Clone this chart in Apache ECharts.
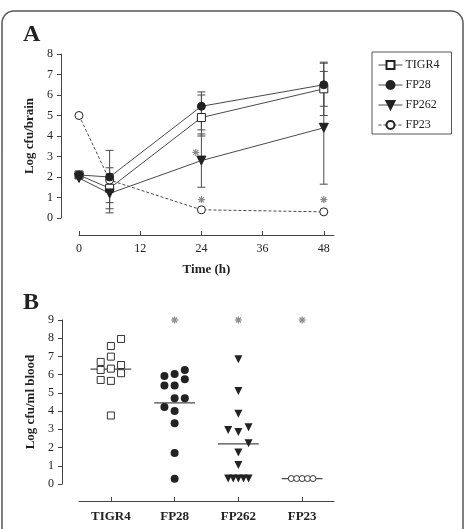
<!DOCTYPE html>
<html>
<head>
<meta charset="utf-8">
<script src="https://cdn.jsdelivr.net/npm/echarts@6/dist/echarts.min.js"></script>
<style>
  html, body { margin: 0; padding: 0; background: #fff; }
  #chart { width: 465px; height: 529px; }
</style>
</head>
<body>
<div id="chart"></div>
<script>
// --- Panel A: brain counts over time ---
const timePoints = [0, 6, 24, 48];
const timeTicks = [0, 12, 24, 36, 48];

const tigr4Brain = [2.1, 1.45, 4.9, 6.3];
const tigr4Low = [2.1, 0.45, 4.0, 5.0];
const tigr4High = [2.1, 2.45, 6.0, 7.6];

const fp28Brain = [2.1, 2.0, 5.45, 6.5];
const fp28Low = [2.1, 0.75, 4.3, 5.45];
const fp28High = [2.1, 3.3, 6.15, 7.55];

const fp262Brain = [1.95, 1.2, 2.8, 4.4];
const fp262Low = [1.95, 0.25, 1.5, 1.65];
const fp262High = [1.95, 2.15, 4.1, 7.15];

const fp23Brain = [5.0, 1.85, 0.4, 0.3];

// asterisks (significance) in panel A: [time, value]
const starsA = [[22.9, 3.2], [24, 0.9], [48, 0.9]];

// --- Panel B: blood counts per strain (x = category index + jitter) ---
const bloodCategories = ['TIGR4', 'FP28', 'FP262', 'FP23'];
const tigr4Blood = [[1.16, 7.96], [1, 7.57], [1, 6.99], [0.84, 6.70], [1.16, 6.53], [1, 6.33],
  [0.84, 6.26], [1.16, 6.08], [0.84, 5.71], [1, 5.66], [1, 3.76]];
const fp28Blood = [[1.84, 5.93], [2, 6.04], [2.16, 6.26], [2.16, 5.75], [1.84, 5.40], [2, 5.40],
  [2, 4.71], [2.16, 4.71], [1.84, 4.22], [2, 4.00], [2, 3.34], [2, 1.70], [2, 0.29]];
const fp262Blood = [[3, 6.84], [3, 5.11], [3, 3.85], [2.84, 2.97], [3.16, 3.12], [3, 2.85],
  [3.16, 2.24], [3, 1.73], [3, 1.04], [2.84, 0.3], [2.92, 0.3], [3, 0.3], [3.08, 0.3], [3.16, 0.3]];
const fp23Blood = [[3.83, 0.3], [3.915, 0.3], [4, 0.3], [4.085, 0.3], [4.17, 0.3]];
const bloodMedians = [6.3, 4.45, 2.2, 0.3];
const starsB = [[2, 9.0], [3, 9.0], [4, 9.0]];

const FONT = 'Liberation Serif';
const AXIS = '#444';
const LINE = '#4a4a4a';
const INK = '#222';
const STAR = '#8a8a8a';

const zip = (xs, ys) => xs.map((x, i) => [x, ys[i]]);
const errData = (low, high) => timePoints.map((t, i) => [t, low[i], high[i]]);

function errorBars(params, api) {
  const x = api.value(0);
  const lo = api.coord([x, api.value(1)]);
  const hi = api.coord([x, api.value(2)]);
  const w = 4;
  const st = { stroke: LINE, lineWidth: 1 };
  return {
    type: 'group',
    children: [
      { type: 'line', shape: { x1: lo[0], y1: lo[1], x2: hi[0], y2: hi[1] }, style: st },
      { type: 'line', shape: { x1: lo[0] - w, y1: lo[1], x2: lo[0] + w, y2: lo[1] }, style: st },
      { type: 'line', shape: { x1: hi[0] - w, y1: hi[1], x2: hi[0] + w, y2: hi[1] }, style: st }
    ]
  };
}

function asterisk(params, api) {
  const p = api.coord([api.value(0), api.value(1)]);
  const r = 3.5;
  const st = { stroke: STAR, lineWidth: 1.2 };
  const kids = [];
  for (let k = 0; k < 4; k++) {
    const a = k * Math.PI / 4;
    const dx = Math.cos(a) * r, dy = Math.sin(a) * r;
    kids.push({ type: 'line', shape: { x1: p[0] - dx, y1: p[1] - dy, x2: p[0] + dx, y2: p[1] + dy }, style: st });
  }
  return { type: 'group', children: kids };
}

function medianLine(params, api) {
  const x = api.value(0), y = api.value(1);
  const a = api.coord([x - 0.32, y]);
  const b = api.coord([x + 0.32, y]);
  return { type: 'line', shape: { x1: a[0], y1: a[1], x2: b[0], y2: b[1] }, style: { stroke: LINE, lineWidth: 1.2 } };
}

const tickLabel = { fontFamily: FONT, fontSize: 12, color: INK };
const axisName = { fontFamily: FONT, fontSize: 13, fontWeight: 'bold', color: INK };

const chart = echarts.init(document.getElementById('chart'), null, { renderer: 'canvas' });

chart.setOption({
  backgroundColor: '#fff',
  animation: false,
  graphic: [
    { type: 'rect', shape: { x: 2, y: 11, width: 461, height: 560, r: 12 },
      style: { fill: 'none', stroke: '#555', lineWidth: 1.5 } },
    { type: 'text', left: 23, top: 23, style: { text: 'A', font: 'bold 24px "Liberation Serif"', fill: INK } },
    { type: 'text', left: 23, top: 291, style: { text: 'B', font: 'bold 24px "Liberation Serif"', fill: INK } }
  ],
  legend: {
    data: ['TIGR4', 'FP28', 'FP262', 'FP23'],
    orient: 'vertical',
    left: 372,
    top: 52,
    padding: [7, 12, 3, 6],
    itemGap: 8,
    itemWidth: 24,
    itemHeight: 10,
    borderColor: '#555',
    borderWidth: 1,
    selectedMode: false,
    lineStyle: { width: 1 },
    textStyle: { fontFamily: FONT, fontSize: 12, color: INK, padding: [0, 0, 0, -2] }
  },
  grid: [
    { left: 79, right: 131, top: 54, bottom: 311 },
    { left: 79, right: 131, top: 320, bottom: 45 }
  ],
  xAxis: [
    {
      gridIndex: 0, type: 'value', min: 0, max: 50, interval: 12, offset: 17,
      splitLine: { show: false },
      axisLine: { onZero: false, lineStyle: { color: AXIS } },
      axisTick: { inside: true, length: 4, customValues: timeTicks, lineStyle: { color: AXIS } },
      axisLabel: Object.assign({ customValues: timeTicks, margin: 8 }, tickLabel),
      name: 'Time (h)', nameLocation: 'middle', nameGap: 28,
      nameTextStyle: axisName
    },
    {
      gridIndex: 1, type: 'value', min: 0.5, max: 4.5, offset: 17,
      splitLine: { show: false },
      axisLine: { onZero: false, lineStyle: { color: AXIS } },
      axisTick: { inside: true, length: 4, customValues: [1, 2, 3, 4], lineStyle: { color: AXIS } },
      axisLabel: { customValues: [1, 2, 3, 4], margin: 9, fontFamily: FONT, fontSize: 13,
        fontWeight: 'bold', color: INK, formatter: v => bloodCategories[Math.round(v) - 1] }
    }
  ],
  yAxis: [
    {
      gridIndex: 0, type: 'value', min: 0, max: 8, interval: 1, offset: 18,
      splitLine: { show: false },
      axisLine: { show: true, onZero: false, lineStyle: { color: AXIS } },
      axisTick: { show: true, length: 4, lineStyle: { color: AXIS } },
      axisLabel: Object.assign({ margin: 8 }, tickLabel),
      name: 'Log cfu/brain', nameLocation: 'middle', nameGap: 25,
      nameTextStyle: axisName
    },
    {
      gridIndex: 1, type: 'value', min: 0, max: 9, interval: 1, offset: 17,
      splitLine: { show: false },
      axisLine: { show: true, onZero: false, lineStyle: { color: AXIS } },
      axisTick: { show: true, length: 4, lineStyle: { color: AXIS } },
      axisLabel: Object.assign({ margin: 8 }, tickLabel),
      name: 'Log cfu/ml blood', nameLocation: 'middle', nameGap: 25,
      nameTextStyle: axisName
    }
  ],
  series: [
    // error bars (behind lines)
    { type: 'custom', xAxisIndex: 0, yAxisIndex: 0, renderItem: errorBars, data: errData(tigr4Low, tigr4High), encode: { x: 0, y: [1, 2] }, z: 1 },
    { type: 'custom', xAxisIndex: 0, yAxisIndex: 0, renderItem: errorBars, data: errData(fp28Low, fp28High), encode: { x: 0, y: [1, 2] }, z: 1 },
    { type: 'custom', xAxisIndex: 0, yAxisIndex: 0, renderItem: errorBars, data: errData(fp262Low, fp262High), encode: { x: 0, y: [1, 2] }, z: 1 },
    {
      name: 'FP23', type: 'line', xAxisIndex: 0, yAxisIndex: 0, data: zip(timePoints, fp23Brain),
      symbol: 'circle', symbolSize: 8,
      lineStyle: { color: LINE, width: 1, type: [3, 2] },
      itemStyle: { color: '#fff', borderColor: INK, borderWidth: 1 }, z: 2
    },
    {
      name: 'TIGR4', type: 'line', xAxisIndex: 0, yAxisIndex: 0, data: zip(timePoints, tigr4Brain),
      symbol: 'rect', symbolSize: 8,
      lineStyle: { color: LINE, width: 1 },
      itemStyle: { color: '#fff', borderColor: INK, borderWidth: 1 }, z: 3
    },
    {
      name: 'FP28', type: 'line', xAxisIndex: 0, yAxisIndex: 0, data: zip(timePoints, fp28Brain),
      symbol: 'circle', symbolSize: 8,
      lineStyle: { color: LINE, width: 1 },
      itemStyle: { color: INK, borderColor: INK, borderWidth: 1 }, z: 3
    },
    {
      name: 'FP262', type: 'line', xAxisIndex: 0, yAxisIndex: 0, data: zip(timePoints, fp262Brain),
      symbol: 'triangle', symbolRotate: 180, symbolSize: 9,
      lineStyle: { color: LINE, width: 1 },
      itemStyle: { color: INK, borderColor: INK, borderWidth: 1 }, z: 3
    },
    { type: 'custom', xAxisIndex: 0, yAxisIndex: 0, renderItem: asterisk, data: starsA, z: 4 },

    // panel B
    { type: 'custom', xAxisIndex: 1, yAxisIndex: 1, renderItem: medianLine,
      data: bloodMedians.map((m, i) => [i + 1, m]), z: 2 },
    {
      name: 'TIGR4 blood', type: 'scatter', xAxisIndex: 1, yAxisIndex: 1, data: tigr4Blood,
      symbol: 'rect', symbolSize: 7,
      itemStyle: { color: '#fff', borderColor: '#333', borderWidth: 1, opacity: 1 }, z: 3
    },
    {
      name: 'FP28 blood', type: 'scatter', xAxisIndex: 1, yAxisIndex: 1, data: fp28Blood,
      symbol: 'circle', symbolSize: 8,
      itemStyle: { color: INK, opacity: 1 }, z: 3
    },
    {
      name: 'FP262 blood', type: 'scatter', xAxisIndex: 1, yAxisIndex: 1, data: fp262Blood,
      symbol: 'triangle', symbolRotate: 180, symbolSize: 8,
      itemStyle: { color: INK, opacity: 1 }, z: 3
    },
    {
      name: 'FP23 blood', type: 'scatter', xAxisIndex: 1, yAxisIndex: 1, data: fp23Blood,
      symbol: 'circle', symbolSize: 6,
      itemStyle: { color: '#fff', borderColor: '#333', borderWidth: 1, opacity: 1 }, z: 3
    },
    { type: 'custom', xAxisIndex: 1, yAxisIndex: 1, renderItem: asterisk, data: starsB, z: 4 }
  ]
});
</script>
</body>
</html>
